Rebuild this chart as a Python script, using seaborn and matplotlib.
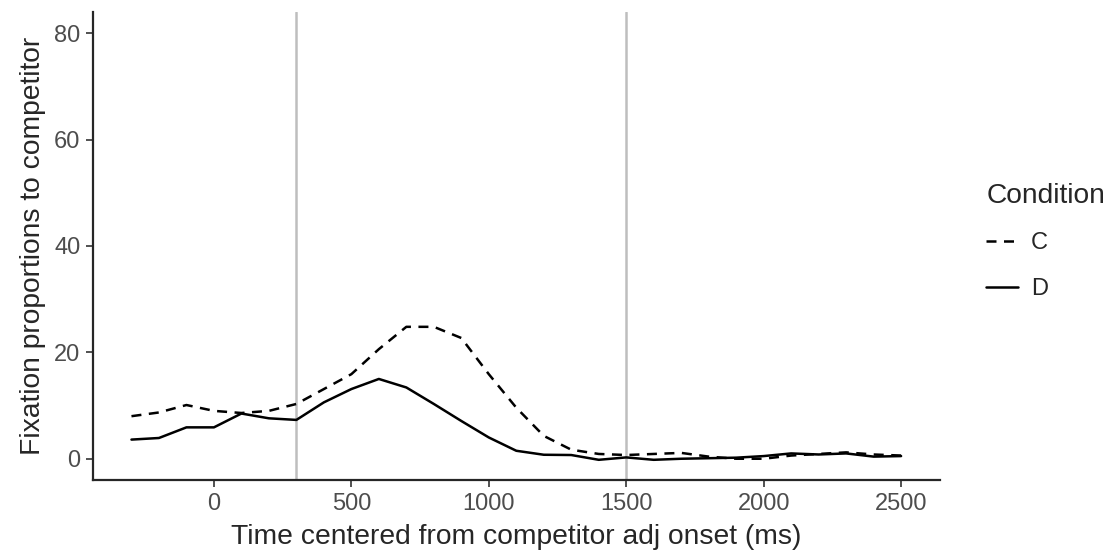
import matplotlib
matplotlib.use('Agg')
import matplotlib.pyplot as plt
import seaborn as sns
import pandas as pd

# Datos
tiempo = list(range(-300, 2600, 100))
cond_c = [8.0, 8.7, 10.1, 9.0, 8.6, 9.0, 10.3, 13.1, 15.9, 20.6, 24.8, 24.8, 22.7, 15.9, 9.6,
          4.3, 1.7, 0.9, 0.7, 0.9, 1.1, 0.4, 0.0, 0.0, 0.6, 0.9, 1.2, 0.8, 0.6]
cond_d = [3.6, 3.9, 5.9, 5.9, 8.5, 7.6, 7.3, 10.6, 13.1, 15.0, 13.4, 10.3, 7.1, 4.0, 1.5,
          0.75, 0.7, -0.2, 0.25, -0.2, 0.0, 0.1, 0.2, 0.5, 1.0, 0.8, 1.0, 0.4, 0.5]
lineas_v = [300, 1500]

df = pd.DataFrame({
    'tiempo': tiempo * 2,
    'prop': cond_c + cond_d,
    'Condition': ['C'] * len(tiempo) + ['D'] * len(tiempo),
})

sns.set_style('ticks')
plt.rcParams['font.family'] = ['Liberation Sans', 'DejaVu Sans']

fig = plt.figure(figsize=(11.11, 5.52), dpi=100)
ax = fig.add_axes([0.0837, 0.1304, 0.762, 0.848])

for v in lineas_v:
    ax.axvline(v, color='#BEBEBE', lw=1.8, zorder=1)

sns.lineplot(data=df, x='tiempo', y='prop', style='Condition', color='black',
             dashes={'C': (4, 3), 'D': ''}, lw=1.8, ax=ax, zorder=3)

ax.set_xlim(-440, 2640)
ax.set_ylim(-4, 84)
ax.set_xticks([0, 500, 1000, 1500, 2000, 2500])
ax.set_yticks([0, 20, 40, 60, 80])
ax.tick_params(labelsize=17, colors='#333333', labelcolor='#4D4D4D', length=5, width=1.2, pad=4)
for s in ['left', 'bottom']:
    ax.spines[s].set_linewidth(1.6)
for s in ['top', 'right']:
    ax.spines[s].set_visible(False)
ax.set_xlabel('Time centered from competitor adj onset (ms)', fontsize=20.3, labelpad=7)
ax.set_ylabel('Fixation proportions to competitor', fontsize=20.3, labelpad=6)

leg = ax.legend(title='Condition', loc='center left', bbox_to_anchor=(1.03, 0.51),
                frameon=False, fontsize=17, title_fontsize=20.3, handlelength=1.35,
                labelspacing=1.0, alignment='left', handletextpad=0.55)
for h in leg.get_lines():
    h.set_color('black')
    h.set_linewidth(1.8)

fig.savefig('out.png', dpi=100)
